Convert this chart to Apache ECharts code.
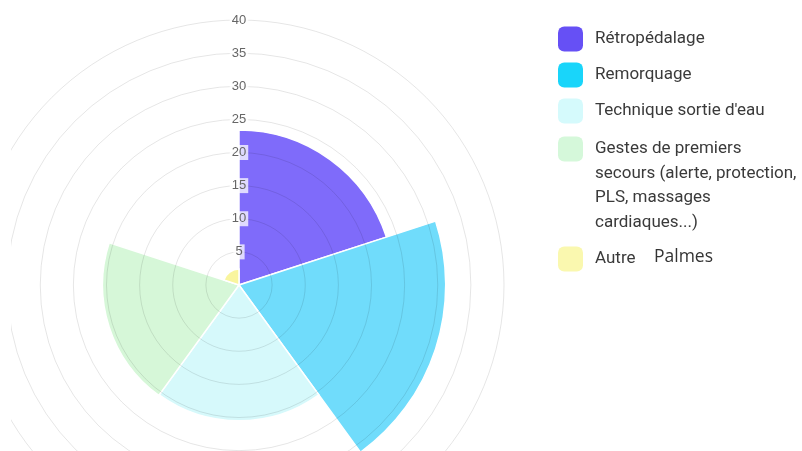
<!DOCTYPE html>
<html>
<head>
<meta charset="utf-8">
<script src="https://cdn.jsdelivr.net/npm/echarts@6/dist/echarts.min.js"></script>
<style>
  html, body { margin: 0; background: #fff; }
  #chart { width: 802px; height: 451px; }
</style>
</head>
<body>
<div id="chart"></div>
<script>
const categories = ['Rétropédalage', 'Remorquage', "Technique sortie d'eau",
  'Gestes de premiers secours (alerte, protection, PLS, massages cardiaques...)', 'Autre'];
const legendLabels = ['Rétropédalage', 'Remorquage', "Technique sortie d'eau",
  'Gestes de premiers\nsecours (alerte, protection,\nPLS, massages\ncardiaques...)', 'Autre'];
const values = [23.4, 31.2, 20.5, 20.6, 2.4];
const radiusMax = 40;
const radiusStep = 5;

const fills = ['#7f6bfa', '#70dcfb', '#d6f9fb', '#d6f7d8', '#f9f59e'];
const swatches = ['#6650f5', '#19d5fa', '#d5fafc', '#d5f8da', '#faf8af'];

let chart = echarts.init(document.getElementById('chart'));

// one stacked series per category so every slice gets its own legend entry
let series = categories.map(function (name, i) {
    return {
        name: name,
        type: 'bar',
        coordinateSystem: 'polar',
        stack: 'all',
        barCategoryGap: '0%',
        silent: true,
        itemStyle: { color: fills[i], borderColor: '#fff', borderWidth: 1.5 },
        data: values.map(function (v, j) { return j === i ? v : '-'; })
    };
});

// legend rows (Chart.js style: swatch next to the first text line)
const legendTops = [26.5, 62.5, 98.5, 63.25, 246.5];
let legends = categories.map(function (name, i) {
    let label = legendLabels[i];
    let lines = label.split('\n').length;
    // pad with empty lines above so the swatch sits on the first line
    let text = new Array(lines).join('\n') + label;
    return {
        left: 558,
        top: legendTops[i],
        padding: 0,
        orient: 'vertical',
        selectedMode: false,
        itemWidth: 25,
        itemHeight: 25,
        icon: 'roundRect',
        itemStyle: { borderWidth: 0 },
        data: [{ name: name, itemStyle: { color: swatches[i], borderWidth: 0 } }],
        formatter: function () { return text; },
        textStyle: {
            fontFamily: 'Roboto, Arial, sans-serif',
            fontSize: 17,
            color: '#3a3a3a',
            lineHeight: 24.5,
            padding: [0, 0, 0, 7]
        }
    };
});

let option = {
    animation: false,
    polar: { center: [239, 285], radius: 265 },
    angleAxis: {
        type: 'category',
        data: categories,
        startAngle: 90,
        clockwise: true,
        axisLine: { show: false },
        axisTick: { show: false },
        axisLabel: { show: false },
        splitLine: { show: false }
    },
    radiusAxis: {
        min: 0,
        max: radiusMax,
        interval: radiusStep,
        z: 10,
        axisLine: { show: false },
        axisTick: { show: false },
        splitLine: { show: true, lineStyle: { color: 'rgba(0,0,0,0.1)', width: 1 } },
        axisLabel: {
            showMinLabel: false,
            margin: 0,
            align: 'center',
            verticalAlign: 'middle',
            color: '#666',
            fontSize: 13,
            fontFamily: '"Helvetica Neue", Arial, sans-serif',
            backgroundColor: 'rgba(255,255,255,0.75)',
            padding: [1, 2]
        }
    },
    legend: legends,
    series: series,
    graphic: [
        {
            type: 'text',
            left: 654,
            top: 248,
            style: { text: 'Palmes', font: '17.5px "Open Sans", sans-serif', fill: '#333' }
        },
        {
            // canvas edge of the original chart cuts the rings on the left
            type: 'rect',
            left: 0,
            top: 0,
            z: 100,
            shape: { width: 11, height: 451 },
            style: { fill: '#fff' }
        }
    ]
};

chart.setOption(option);
</script>
</body>
</html>
